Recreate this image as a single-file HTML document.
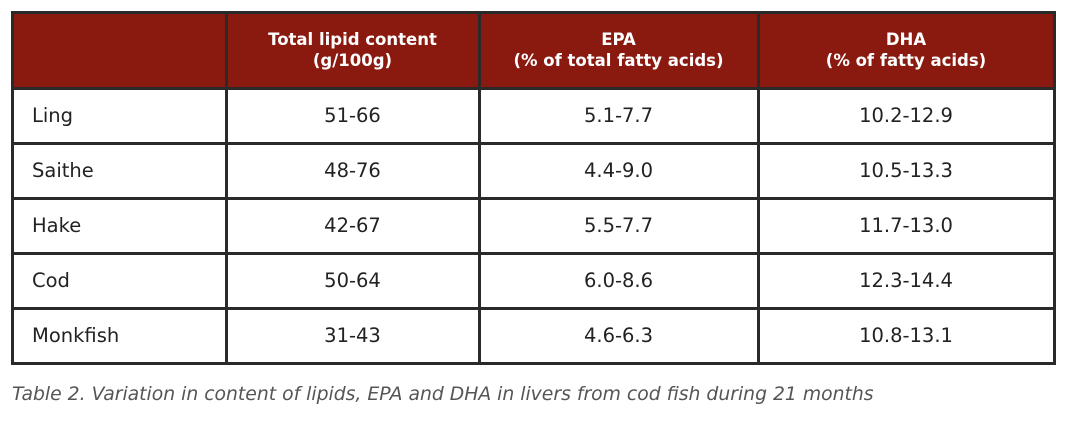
<!DOCTYPE html>
<html><head><meta charset="utf-8"><style>
body{margin:0;width:1068px;height:426px;background:#fff;position:relative;font-family:"DejaVu Sans","Liberation Sans",sans-serif;overflow:hidden}
.c{position:absolute;box-sizing:border-box;display:flex;align-items:center;justify-content:center;text-align:center;color:#222;font-size:19.5px}
.h{color:#fff;font-weight:bold;font-size:16.5px;line-height:21px;background:#8a1a10}
.l{justify-content:flex-start;padding-left:20px}
.v,.r{position:absolute;background:#2a2a2a}
#cap{position:absolute;left:12px;top:384px;font-style:italic;color:#555;font-size:18.8px;white-space:nowrap}
</style></head><body>
<div id="t"></div>
<div id="cap">Table 2. Variation in content of lipids, EPA and DHA in livers from cod fish during 21 months</div>
<script>
const xs=[12,226,479,758,1054];
const ys=[12,88,143,198,253,308,363];
const header=["","Total lipid content<br>(g/100g)","EPA<br>(% of total fatty acids)","DHA<br>(% of fatty acids)"];
const rows=[["Ling","51-66","5.1-7.7","10.2-12.9"],["Saithe","48-76","4.4-9.0","10.5-13.3"],["Hake","42-67","5.5-7.7","11.7-13.0"],["Cod","50-64","6.0-8.6","12.3-14.4"],["Monkfish","31-43","4.6-6.3","10.8-13.1"]];
const t=document.getElementById('t');
function cell(r,c,html,cls){
 const d=document.createElement('div');
 d.className='c '+cls;
 d.style.left=xs[c]+'px';d.style.top=ys[r]+'px';
 d.style.width=(xs[c+1]-xs[c])+'px';d.style.height=(ys[r+1]-ys[r])+'px';
 d.innerHTML=html;
 
 
 t.appendChild(d);
}
header.forEach((h,c)=>cell(0,c,h,'h'));
rows.forEach((row,i)=>row.forEach((v,c)=>cell(i+1,c,v,c==0?'l':'')));
xs.forEach(x=>{const d=document.createElement('div');d.className='v';d.style.left=(x-1)+'px';d.style.top='11px';d.style.width='3px';d.style.height='353px';


t.appendChild(d);});
ys.forEach(y=>{const d=document.createElement('div');d.className='r';d.style.left='11px';d.style.top=(y-1)+'px';d.style.width='1045px';d.style.height='3px';


t.appendChild(d);});
</script>
</body></html>
